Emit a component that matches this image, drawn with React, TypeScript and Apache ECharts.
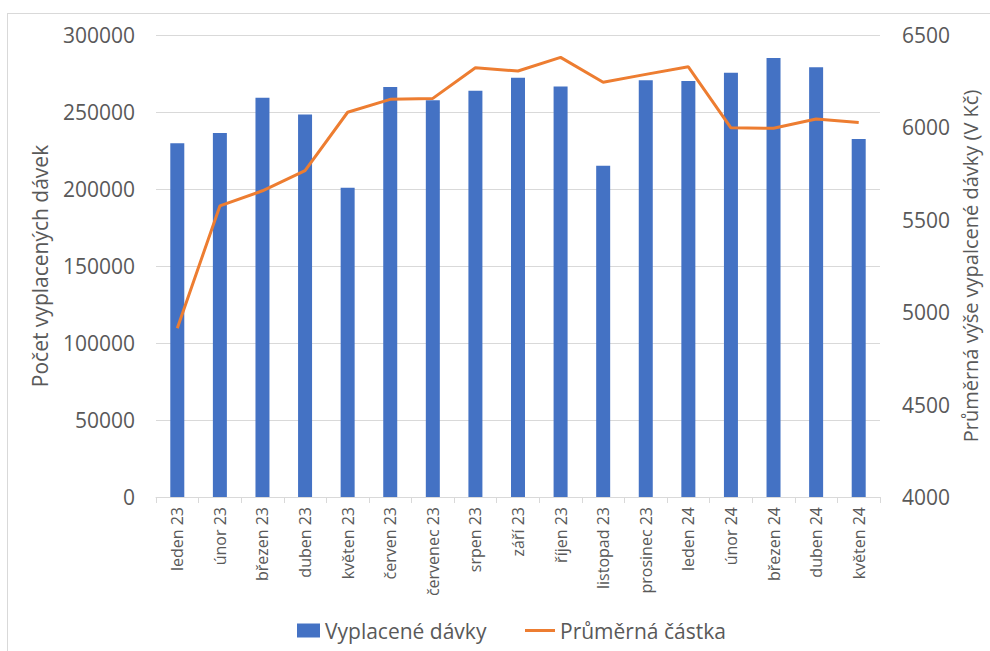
import React, { useEffect, useRef } from "react";
import * as echarts from "echarts";

const categories = [
  "leden 23", "únor 23", "březen 23", "duben 23", "květen 23", "červen 23",
  "červenec 23", "srpen 23", "září 23", "říjen 23", "listopad 23", "prosinec 23",
  "leden 24", "únor 24", "březen 24", "duben 24", "květen 24",
];
const paidBenefits = [
  229700, 236400, 259300, 248300, 200800, 266200, 257600, 263800, 272300,
  266500, 215100, 270600, 270100, 275500, 285100, 279000, 232500,
];
const averageAmount = [
  4913, 5575, 5657, 5766, 6082, 6152, 6157, 6323, 6305, 6379, 6244, 6287,
  6328, 5998, 5995, 6045, 6027,
];
const seriesNames = ["Vyplacené dávky", "Průměrná částka"];
const leftAxisName = "Počet vyplacených dávek";
const rightAxisName = "Průměrná výše vypalcené dávky (V Kč)";

const FONT = "'Open Sans', 'Noto Sans', sans-serif";
const TEXT = "#595959";
const GRID = "#d9d9d9";

export default function App() {
  const ref = useRef<HTMLDivElement>(null);
  useEffect(() => {
    if (!ref.current) return;
    const chart = echarts.init(ref.current, undefined, { renderer: "svg" });
    const legendText = { fontFamily: FONT, fontSize: 21, color: TEXT };
    chart.setOption({
      animation: false,
      textStyle: { fontFamily: FONT, color: TEXT },
      grid: { left: 156, right: 110, top: 35, bottom: 154 },
      legend: [
        {
          left: 297,
          top: 620,
          padding: 0,
          itemWidth: 23,
          itemHeight: 14,
          itemGap: 0,
          textStyle: legendText,
          data: [{ name: seriesNames[0], icon: "rect" }],
        },
        {
          left: 525,
          top: 620,
          padding: 0,
          itemWidth: 30,
          itemHeight: 3,
          itemGap: 0,
          textStyle: legendText,
          data: [{ name: seriesNames[1], icon: "rect" }],
        },
      ],
      xAxis: {
        type: "category",
        data: categories,
        boundaryGap: true,
        axisLine: { lineStyle: { color: GRID, width: 1 } },
        axisTick: { show: true, length: 6, lineStyle: { color: GRID } },
        axisLabel: {
          rotate: 90,
          fontFamily: FONT,
          fontSize: 16,
          color: TEXT,
          margin: 10,
          interval: 0,
        },
      },
      yAxis: [
        {
          type: "value",
          min: 0,
          max: 300000,
          interval: 50000,
          name: leftAxisName,
          nameLocation: "middle",
          nameGap: 106,
          nameTextStyle: { fontFamily: FONT, fontSize: 21, color: TEXT },
          axisLine: { show: false },
          axisTick: { show: false },
          axisLabel: { fontFamily: FONT, fontSize: 21, color: TEXT, margin: 21, formatter: (v: number) => String(v) },
          splitLine: { show: true, lineStyle: { color: GRID, width: 1 } },
        },
        {
          type: "value",
          min: 4000,
          max: 6500,
          interval: 500,
          name: rightAxisName,
          nameLocation: "middle",
          nameGap: 80,
          nameTextStyle: { fontFamily: FONT, fontSize: 20, color: TEXT },
          axisLine: { show: false },
          axisTick: { show: false },
          axisLabel: { fontFamily: FONT, fontSize: 21, color: TEXT, margin: 22, formatter: (v: number) => String(v) },
          splitLine: { show: false },
        },
      ],
      series: [
        {
          name: seriesNames[0],
          type: "bar",
          data: paidBenefits,
          yAxisIndex: 0,
          barWidth: 14,
          itemStyle: { color: "#4472c4" },
        },
        {
          name: seriesNames[1],
          type: "line",
          data: averageAmount,
          yAxisIndex: 1,
          showSymbol: false,
          symbol: "none",
          lineStyle: { color: "#ed7d31", width: 3 },
          itemStyle: { color: "#ed7d31" },
        },
      ],
    });
    return () => chart.dispose();
  }, []);

  return (
    <div style={{ position: "fixed", left: 0, top: 0, width: 990, height: 651, background: "#fff", overflow: "hidden" }}>
      <div
        style={{
          position: "absolute",
          left: 7,
          top: 13,
          width: 985,
          height: 660,
          border: "1px solid #d9d9d9",
          boxSizing: "border-box",
        }}
      />
      <div ref={ref} style={{ position: "absolute", left: 0, top: 0, width: 990, height: 651 }} />
    </div>
  );
}
